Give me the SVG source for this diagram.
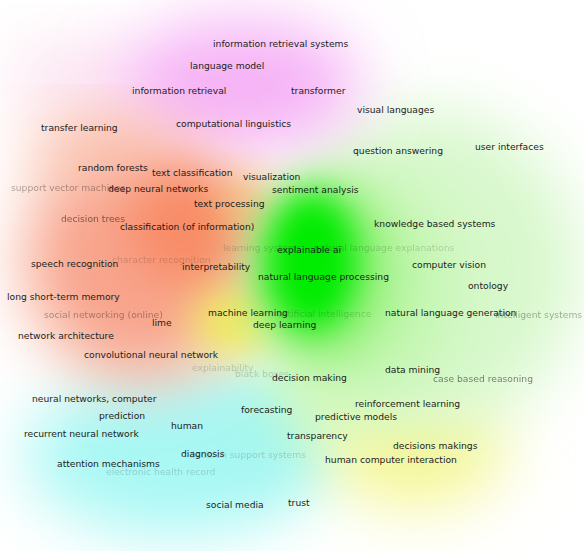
<svg xmlns="http://www.w3.org/2000/svg" width="584" height="551" viewBox="0 0 584 551">
<defs>
<filter id="bL" x="-60%" y="-60%" width="220%" height="220%"><feGaussianBlur stdDeviation="32"/></filter>
<filter id="bM" x="-60%" y="-60%" width="220%" height="220%"><feGaussianBlur stdDeviation="22"/></filter>
<filter id="bS" x="-60%" y="-60%" width="220%" height="220%"><feGaussianBlur stdDeviation="16"/></filter>
<style>
text{font-family:"DejaVu Sans","Liberation Sans",sans-serif;font-size:9.2px;fill:#1c1c1c}
.f{fill:#000;opacity:0.17}
.g{fill:#000;opacity:0.33}
.h{fill:#000;opacity:0.5}
</style>
</defs>
<rect width="584" height="551" fill="#fff"/>
<g id="density">
<ellipse cx="175" cy="455" rx="150" ry="80" fill="#a8f8f4" filter="url(#bL)"/>
<ellipse cx="270" cy="425" rx="70" ry="50" fill="#a4f6f0" filter="url(#bL)"/>
<ellipse cx="415" cy="450" rx="90" ry="55" fill="#f6f690" filter="url(#bL)"/>
<ellipse cx="330" cy="395" rx="50" ry="30" fill="#e0f8a8" filter="url(#bL)"/>
<ellipse cx="430" cy="270" rx="150" ry="160" fill="#d8f8cc" filter="url(#bL)"/>
<ellipse cx="360" cy="290" rx="90" ry="110" fill="#c0f6ac" filter="url(#bL)"/>
<ellipse cx="80" cy="80" rx="70" ry="35" fill="#fbe0ee" filter="url(#bL)"/>
<ellipse cx="240" cy="85" rx="120" ry="65" fill="#f6b2f6" filter="url(#bL)"/>
<ellipse cx="140" cy="260" rx="115" ry="120" fill="#f8a48c" filter="url(#bL)"/>
<ellipse cx="95" cy="150" rx="65" ry="30" fill="#f9bca6" filter="url(#bL)"/>
<ellipse cx="185" cy="228" rx="55" ry="55" fill="#f88c68" filter="url(#bM)"/>
<ellipse cx="232" cy="322" rx="38" ry="32" fill="#eef050" filter="url(#bM)"/>
<ellipse cx="245" cy="205" rx="25" ry="25" fill="#f4b868" filter="url(#bM)"/>
<ellipse cx="320" cy="270" rx="70" ry="90" fill="#8cf070" filter="url(#bM)"/>
<ellipse cx="312" cy="262" rx="45" ry="68" fill="#00ec00" filter="url(#bS)"/>
</g>
<g id="labels">
<text x="213" y="47">information retrieval systems</text>
<text x="190" y="69">language model</text>
<text x="132" y="94">information retrieval</text>
<text x="291" y="94">transformer</text>
<text x="357" y="113">visual languages</text>
<text x="176" y="127">computational linguistics</text>
<text x="41" y="131">transfer learning</text>
<text x="353" y="154">question answering</text>
<text x="475" y="150">user interfaces</text>
<text x="78" y="171">random forests</text>
<text x="152" y="176">text classification</text>
<text x="243" y="180">visualization</text>
<text class="g" x="11" y="191">support vector machines</text>
<text x="108" y="192">deep neural networks</text>
<text x="272" y="193">sentiment analysis</text>
<text x="194" y="207">text processing</text>
<text class="h" x="61" y="222">decision trees</text>
<text x="120" y="230">classification (of information)</text>
<text x="374" y="227">knowledge based systems</text>
<text class="f" x="223" y="251">learning systems</text>
<text class="f" x="314" y="251">natural language explanations</text>
<text x="277" y="253">explainable ai</text>
<text x="31" y="267">speech recognition</text>
<text class="f" x="112" y="263">character recognition</text>
<text x="182" y="270">interpretability</text>
<text x="412" y="268">computer vision</text>
<text x="258" y="280">natural language processing</text>
<text x="468" y="289">ontology</text>
<text x="7" y="300">long short-term memory</text>
<text class="g" x="44" y="318">social networking (online)</text>
<text class="f" x="278" y="317">artificial intelligence</text>
<text x="208" y="316">machine learning</text>
<text class="g" x="495" y="318">intelligent systems</text>
<text x="385" y="316">natural language generation</text>
<text x="152" y="326">lime</text>
<text x="253" y="328">deep learning</text>
<text x="18" y="339">network architecture</text>
<text x="84" y="358">convolutional neural network</text>
<text x="385" y="373">data mining</text>
<text class="h" x="433" y="382">case based reasoning</text>
<text class="f" x="192" y="371">explainability</text>
<text class="f" x="235" y="377">black boxes</text>
<text x="272" y="381">decision making</text>
<text x="32" y="402">neural networks, computer</text>
<text x="355" y="407">reinforcement learning</text>
<text x="99" y="419">prediction</text>
<text x="241" y="413">forecasting</text>
<text x="315" y="420">predictive models</text>
<text x="171" y="429">human</text>
<text x="24" y="437">recurrent neural network</text>
<text x="287" y="439">transparency</text>
<text x="393" y="449">decisions makings</text>
<text class="f" x="189" y="458">decision support systems</text>
<text x="181" y="457">diagnosis</text>
<text x="325" y="463">human computer interaction</text>
<text x="57" y="467">attention mechanisms</text>
<text class="f" x="106" y="475">electronic health record</text>
<text x="206" y="508">social media</text>
<text x="288" y="506">trust</text>
</g>
</svg>
